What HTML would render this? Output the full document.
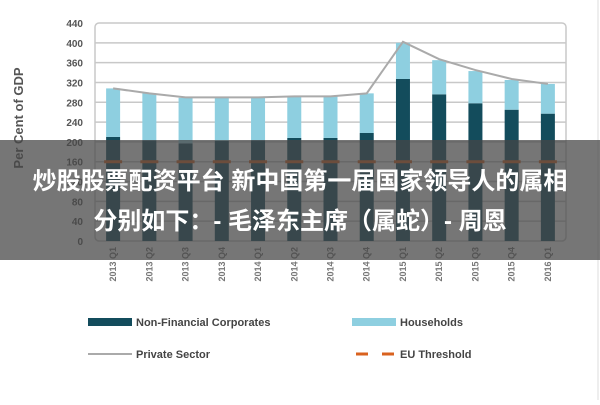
<!DOCTYPE html>
<html><head><meta charset="utf-8">
<style>
body{margin:0;width:600px;height:400px;overflow:hidden;background:#fff;font-family:"Liberation Sans","Noto Sans CJK SC",sans-serif;}
#wrap{position:relative;width:600px;height:400px;}
#banner{position:absolute;left:0;top:140px;width:600px;height:120px;background:rgba(70,70,70,0.74);color:#fff;font-weight:bold;font-size:24px;text-align:center;line-height:40px;padding-top:22px;box-sizing:border-box;font-family:"Liberation Sans","Noto Sans CJK SC",sans-serif;}
</style></head><body>
<div id="wrap">
<svg id="chart" width="600" height="400"></svg>
<div id="banner">炒股股票配资平台 新中国第一届国家领导人的属相<br>分别如下：- 毛泽东主席（属蛇）- 周恩</div>
</div>
<script>
const categories=["2013 Q1","2013 Q2","2013 Q3","2013 Q4","2014 Q1","2014 Q2","2014 Q3","2014 Q4","2015 Q1","2015 Q2","2015 Q3","2015 Q4","2016 Q1"];
const nfc=[210,203,197,202,203,208,208,218,327,296,278,265,257];
const households=[98,95,92,88,87,84,84,80,73,69,65,60,60];
const privateSector=[308,298,290,290,290,292,292,298,402,367,345,327,317];
const euThreshold=[160,160,160,160,160,160,160,160,160,160,160,160,160];
const yTicks=[0,40,80,120,160,200,240,280,320,360,400,440];
const NS="http://www.w3.org/2000/svg";
const svg=document.getElementById('chart');
const L=95,R=566,T=23,B=241,yMax=440;
const y=v=>B-(v/yMax)*(B-T);
const step=(R-L)/categories.length;
const xc=i=>L+step*(i+0.5);
function mk(t,a,p){const e=document.createElementNS(NS,t);for(const k in a)e.setAttribute(k,a[k]);(p||svg).appendChild(e);return e;}
const frame=mk('rect',{x:L,y:T,width:R-L,height:B-T,rx:4,fill:'none',stroke:'#c8c8c8','stroke-width':1.5});

yTicks.forEach(v=>{
 if(v>0&&v<440){const g=mk('line',{x1:L,x2:R,y1:y(v),y2:y(v),stroke:'#c8c8c8','stroke-width':1.5});
 }
 const t=mk('text',{x:L-12,y:y(v)+4,'text-anchor':'end','font-size':10,fill:'#555','font-weight':'bold'});t.textContent=v;
 
});
const yt=mk('text',{x:23,y:118,'text-anchor':'middle','font-size':13,fill:'#555','font-weight':'bold',transform:'rotate(-90 23 118)'});yt.textContent='Per Cent of GDP';

const bw=14;
categories.forEach((c,i)=>{
 const b1=mk('rect',{x:xc(i)-bw/2,y:y(nfc[i]),width:bw,height:B-y(nfc[i]),fill:'#134c5c'});
 
 const top=nfc[i]+households[i];
 const b2=mk('rect',{x:xc(i)-bw/2,y:y(top),width:bw,height:y(nfc[i])-y(top),fill:'#8ecfe0'});
 
 const d=mk('line',{x1:xc(i)-9,x2:xc(i)+9,y1:y(euThreshold[i]),y2:y(euThreshold[i]),stroke:'#d9621f','stroke-width':3});
 
 const tx=xc(i)+3,ty=B+6;
 const t=mk('text',{x:tx,y:ty,'text-anchor':'end','font-size':9,fill:'#777','font-weight':'bold',transform:`rotate(-90 ${tx} ${ty})`});t.textContent=c;
 
});
const pl=mk('polyline',{points:privateSector.map((v,i)=>xc(i)+','+y(v)).join(' '),fill:'none',stroke:'#aaaaaa','stroke-width':2});

const bl=mk('line',{x1:598,x2:598,y1:0,y2:400,stroke:'#ddd','stroke-width':1});

function leg(x,yy,kind,label,name){
 const g=mk('g',{});
 if(kind==='nfc')mk('rect',{x:x,y:yy-4,width:44,height:8,fill:'#134c5c'},g);
 if(kind==='hh')mk('rect',{x:x,y:yy-4,width:44,height:8,fill:'#8ecfe0'},g);
 if(kind==='ps')mk('line',{x1:x,x2:x+44,y1:yy,y2:yy,stroke:'#aaa','stroke-width':2},g);
 if(kind==='eu'){mk('line',{x1:x+4,x2:x+16,y1:yy,y2:yy,stroke:'#d9621f','stroke-width':3},g);mk('line',{x1:x+30,x2:x+42,y1:yy,y2:yy,stroke:'#d9621f','stroke-width':3},g);}
 const t=mk('text',{x:x+48,y:yy+4,'font-size':11,fill:'#444','font-weight':'bold'},g);t.textContent=label;
}
leg(88,322,'nfc','Non-Financial Corporates','legend-non-financial');
leg(352,322,'hh','Households','legend-households');
leg(88,354,'ps','Private Sector','legend-private-sector');
leg(352,354,'eu','EU Threshold','legend-eu-threshold');
</script>
</body></html>
